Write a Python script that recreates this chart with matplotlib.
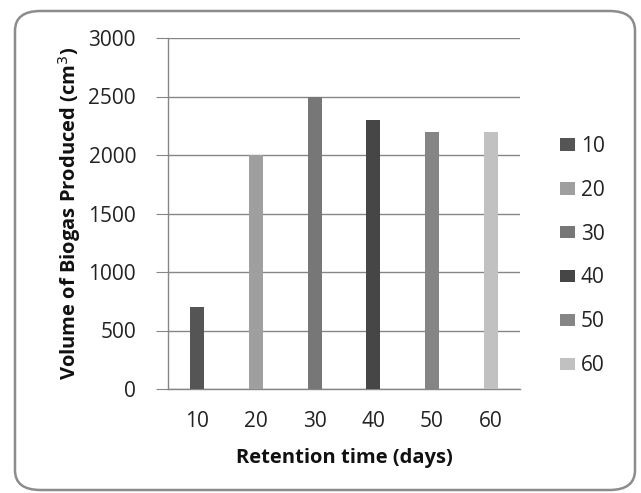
import matplotlib
matplotlib.use("Agg")
import matplotlib.pyplot as plt
from matplotlib.patches import Patch, FancyBboxPatch

categories = ["10", "20", "30", "40", "50", "60"]
volumes = [700, 2000, 2500, 2300, 2200, 2200]
colors = ["#555555", "#9f9f9f", "#777777", "#464646", "#858585", "#c1c1c1"]
yticks = [0, 500, 1000, 1500, 2000, 2500, 3000]

plt.rcParams['font.family'] = ['Open Sans', 'DejaVu Sans']

fig = plt.figure(figsize=(6.41, 4.93), dpi=100)
ax = fig.add_axes([168/641, 1-389/493, (520-168)/641, (389-38)/493])

x = list(range(len(categories)))
ax.bar(x, volumes, width=0.24, color=colors, zorder=3)
ax.set_xlim(-0.5, len(categories)-0.5)
ax.set_ylim(0, 3000)
ax.set_yticks(yticks)
ax.set_xticks(x)
ax.set_xticklabels(categories)
ax.grid(axis='y', color='#868686', linewidth=1.0, zorder=0)
for s in ['top', 'right']:
    ax.spines[s].set_visible(False)
for s in ['left', 'bottom']:
    ax.spines[s].set_color('#868686')
    ax.spines[s].set_linewidth(1.0)
ax.tick_params(axis='y', length=9, color='#868686', labelsize=15, pad=14, labelcolor='#222222')
ax.tick_params(axis='x', length=0, labelsize=15, pad=16, labelcolor='#222222')
ax.set_xlabel("Retention time (days)", fontsize=14.5, fontweight='bold', labelpad=11, color='#111111')
ax.set_ylabel("Volume of Biogas Produced (cm$^3$)", fontsize=14.5, fontweight='bold', labelpad=4, color='#111111')

handles = [Patch(facecolor=c, edgecolor='none') for c in colors]
leg = ax.legend(handles, categories, loc='center left', bbox_to_anchor=(1.115, (389-256)/351),
                frameon=False, fontsize=15, handlelength=0.68, handleheight=0.55,
                handletextpad=0.3, labelspacing=1.1, borderpad=0, borderaxespad=0)
for t in leg.get_texts():
    t.set_color('#222222')

border = FancyBboxPatch((15/641, 1-490/493), (635-15)/641, (490-11)/493,
                        boxstyle="round,pad=0,rounding_size=0.04",
                        transform=fig.transFigure, facecolor='none',
                        edgecolor='#8c8c8c', linewidth=1.8, zorder=10)
fig.patches.append(border)

fig.savefig("out.png", dpi=100)
